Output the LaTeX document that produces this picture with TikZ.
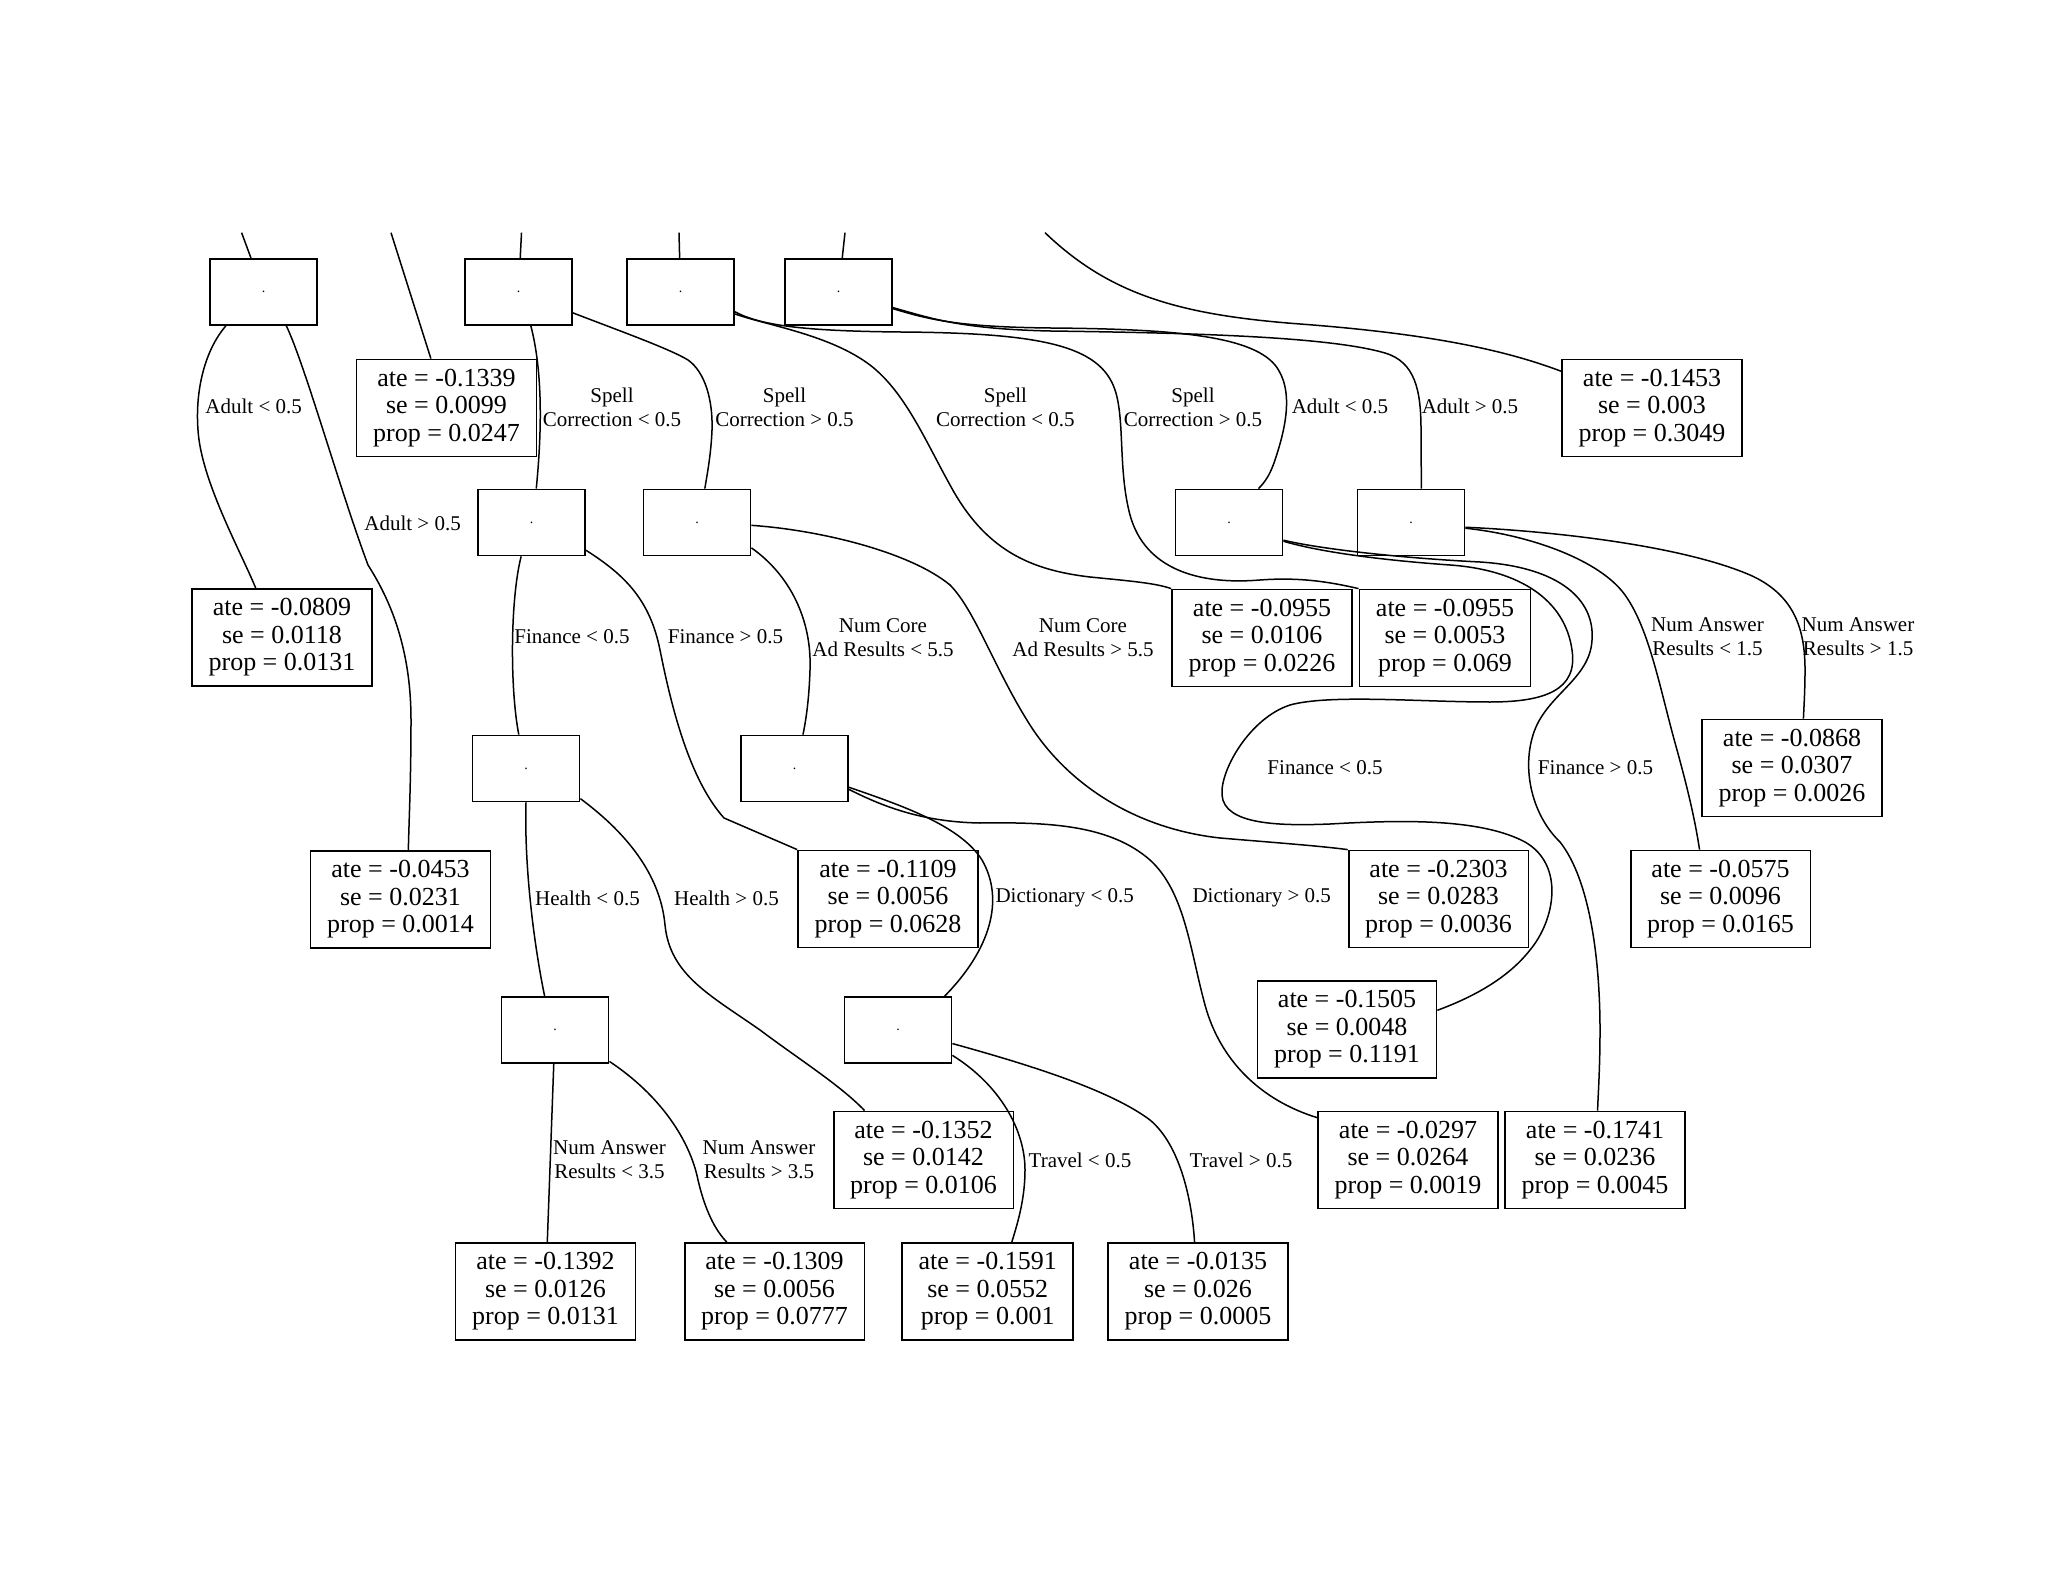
\documentclass[tikz,border=0pt]{standalone}
\usepackage{fontspec}
\setmainfont{Liberation Serif}
\newcommand\leafc[3]{ate = #1\\se = #2\\prop = #3}
\begin{document}
\begin{tikzpicture}[x=0.5pt,y=-0.5pt,
  inner/.style={draw, line width=0.9pt, minimum width=53.5pt, minimum height=33pt, inner sep=0pt, font=\fontsize{7}{7}\selectfont},
  leaf/.style={draw, line width=0.9pt, minimum height=48.5pt, inner xsep=8.25pt, inner ysep=0pt, align=center, font=\fontsize{13}{13.8}\selectfont},
  elab/.style={align=center, inner sep=0pt, font=\fontsize{10.5}{12}\selectfont},
  edge/.style={line width=0.75pt}]
\useasboundingbox (0,0) rectangle (2048,1582);
% internal nodes
\node[inner] (I1) at (263.5,292) {.};
\node[inner] (I2) at (518.5,292) {.};
\node[inner] (I3) at (680.5,292) {.};
\node[inner] (I4) at (838.5,292) {.};
\node[inner] (I5) at (531.5,522.5) {.};
\node[inner] (I6) at (697,522.5) {.};
\node[inner] (I7) at (1229,522.5) {.};
\node[inner] (I8) at (1411,522.5) {.};
\node[inner] (I9) at (526,768.5) {.};
\node[inner] (I10) at (794.5,768.5) {.};
\node[inner] (I11) at (555,1030) {.};
\node[inner] (I12) at (898,1030) {.};
% leaves
\node[leaf] (L1) at (446.5,408) {\leafc{-0.1339}{0.0099}{0.0247}};
\node[leaf] (L2) at (1652,408) {\leafc{-0.1453}{0.003}{0.3049}};
\node[leaf] (L3) at (282,637.5) {\leafc{-0.0809}{0.0118}{0.0131}};
\node[leaf] (L4) at (1262,638) {\leafc{-0.0955}{0.0106}{0.0226}};
\node[leaf] (L5) at (1445,638) {\leafc{-0.0955}{0.0053}{0.069}};
\node[leaf] (L6) at (1792,768) {\leafc{-0.0868}{0.0307}{0.0026}};
\node[leaf] (L7) at (400.5,899.5) {\leafc{-0.0453}{0.0231}{0.0014}};
\node[leaf] (L8) at (888,899) {\leafc{-0.1109}{0.0056}{0.0628}};
\node[leaf] (L9) at (1438.5,899) {\leafc{-0.2303}{0.0283}{0.0036}};
\node[leaf] (L10) at (1720.5,899) {\leafc{-0.0575}{0.0096}{0.0165}};
\node[leaf] (L11) at (1347,1029.5) {\leafc{-0.1505}{0.0048}{0.1191}};
\node[leaf] (L12) at (923.5,1160) {\leafc{-0.1352}{0.0142}{0.0106}};
\node[leaf] (L13) at (1408,1160) {\leafc{-0.0297}{0.0264}{0.0019}};
\node[leaf] (L14) at (1595,1160) {\leafc{-0.1741}{0.0236}{0.0045}};
\node[leaf] (L15) at (545.5,1291.5) {\leafc{-0.1392}{0.0126}{0.0131}};
\node[leaf] (L16) at (774.5,1291.5) {\leafc{-0.1309}{0.0056}{0.0777}};
\node[leaf] (L17) at (987.7,1291.5) {\leafc{-0.1591}{0.0552}{0.001}};
\node[leaf] (L18) at (1198,1291.5) {\leafc{-0.0135}{0.026}{0.0005}};
% edge labels
\node[elab] (a1) at (253.7,406.7) {Adult < 0.5};
\node[elab] (a2) at (412.6,523) {Adult > 0.5};
\node[elab] (a3) at (612,407) {Spell\\Correction < 0.5};
\node[elab] (a4) at (784.5,407) {Spell\\Correction > 0.5};
\node[elab] (a5) at (1005.4,407) {Spell\\Correction < 0.5};
\node[elab] (a6) at (1193,407) {Spell\\Correction > 0.5};
\node[elab] (a7) at (1340,406.7) {Adult < 0.5};
\node[elab] (a8) at (1470,406.7) {Adult > 0.5};
\node[elab] (a9) at (572,636.7) {Finance < 0.5};
\node[elab] (a10) at (725.5,636.7) {Finance > 0.5};
\node[elab] (a11) at (883,637.5) {Num Core\\Ad Results < 5.5};
\node[elab] (a12) at (1083,637.5) {Num Core\\Ad Results > 5.5};
\node[elab] (a13) at (1325,768) {Finance < 0.5};
\node[elab] (a14) at (1595.5,768) {Finance > 0.5};
\node[elab] (a15) at (1707.5,637) {Num Answer\\Results < 1.5};
\node[elab] (a16) at (1858,637) {Num Answer\\Results > 1.5};
\node[elab] (a17) at (587.5,898) {Health < 0.5};
\node[elab] (a18) at (726.5,898) {Health > 0.5};
\node[elab] (a19) at (1064.7,898) {Dictionary < 0.5};
\node[elab] (a20) at (1261.7,898) {Dictionary > 0.5};
\node[elab] (a21) at (609.5,1160) {Num Answer\\Results < 3.5};
\node[elab] (a22) at (759,1160) {Num Answer\\Results > 3.5};
\node[elab] (a23) at (1080,1160) {Travel < 0.5};
\node[elab] (a24) at (1241,1160) {Travel > 0.5};
% incoming edges cut at the top
\coordinate (T1) at (241.6,232.7);
\coordinate (T2) at (391,232.7);
\coordinate (T3) at (521.5,232.7);
\coordinate (T4) at (679,232.7);
\coordinate (T5) at (845,232.7);
\coordinate (T6) at (1045,232.7);
\draw[edge] (T1) -- (I1);
\draw[edge] (T2) -- (L1);
\draw[edge] (T3) -- (I2);
\draw[edge] (T4) -- (I3);
\draw[edge] (T5) -- (I4);
\draw[edge] (T6) .. controls (1110,295) and (1180,315) .. (1300,324) .. controls (1420,333) and (1500,348) .. (L2.158);
% I1
\draw[edge] (I1.-138) .. controls (205,350) and (195,390) .. (198,430) .. controls (201,480) and (240,550) .. (L3.118);
\draw[edge] (I1.-56) .. controls (305,365) and (340,490) .. (368,565) .. controls (385,592) and (411,640) .. (411,720) .. controls (411,780) and (409,820) .. (L7.81);
% I2
\draw[edge] (I2.-70) .. controls (545,380) and (540,450) .. (I5.82);
\draw[edge] (I2.-21) .. controls (620,331) and (670,349) .. (688,360) .. controls (705,372) and (713,400) .. (712,430) .. controls (711,455) and (707,475) .. (I6.77);
% I3
\draw[edge] (I3.-22) .. controls (770,326) and (830,335) .. (870,365) .. controls (905,392) and (925,440) .. (950,485) .. controls (985,550) and (1030,570) .. (1090,577) .. controls (1130,581) and (1155,583) .. (L4.north west);
\draw[edge] (I3.-20) .. controls (760,325) and (800,331) .. (900,332) .. controls (1040,333) and (1100,345) .. (1115,390) .. controls (1125,420) and (1118,470) .. (1130,515) .. controls (1145,570) and (1200,585) .. (1260,580) .. controls (1300,577) and (1330,582) .. (L5.north west);
% I4
\draw[edge] (I4.-17) .. controls (930,320) and (960,327) .. (1050,328) .. controls (1170,329) and (1250,335) .. (1275,365) .. controls (1295,390) and (1285,430) .. (1275,460) .. controls (1270,475) and (1265,482) .. (I7.49);
\draw[edge] (I4.-16) .. controls (930,318) and (960,329) .. (1050,331) .. controls (1200,333) and (1330,337) .. (1385,353) .. controls (1415,362) and (1421,390) .. (1421,430) -- (I8.73);
% I5
\draw[edge] (I5.-107) .. controls (510,600) and (510,690) .. (I9.102);
\draw[edge] (I5.-27) .. controls (625,575) and (650,600) .. (660,650) .. controls (672,710) and (690,780) .. (724,818) -- (L8.north west);
% I6
\draw[edge] (I6.-25) .. controls (790,575) and (812,620) .. (810,670) .. controls (809,700) and (806,720) .. (I10.76);
\draw[edge] (I6.-3) .. controls (820,530) and (910,552) .. (950,585) .. controls (975,610) and (995,670) .. (1030,725) .. controls (1065,780) and (1130,828) .. (1220,838) .. controls (1280,843) and (1320,846) .. (L9.north west);
% I7
\draw[edge] (I7.-19) .. controls (1320,552) and (1380,560) .. (1450,565) .. controls (1520,570) and (1565,600) .. (1572,650) .. controls (1578,690) and (1545,702) .. (1490,702) .. controls (1420,702) and (1330,694) .. (1290,705) .. controls (1250,718) and (1220,770) .. (1222,795) .. controls (1224,825) and (1280,826) .. (1330,824) .. controls (1400,820) and (1480,818) .. (1525,842) .. controls (1565,865) and (1555,920) .. (1530,950) .. controls (1505,982) and (1465,1000) .. (L11.12);
\draw[edge] (I7.-18) .. controls (1320,549) and (1400,558) .. (1480,562) .. controls (1560,567) and (1595,600) .. (1592,640) .. controls (1590,680) and (1545,695) .. (1533,735) .. controls (1522,770) and (1532,815) .. (1560,842) .. controls (1590,880) and (1600,960) .. (1600,1030) .. controls (1600,1070) and (1598,1095) .. (L14.87);
% I8
\draw[edge] (I8.-5) .. controls (1550,531) and (1680,545) .. (1750,575) .. controls (1795,595) and (1805,630) .. (1805,670) .. controls (1805,690) and (1804,705) .. (L6.77);
\draw[edge] (I8.-6) .. controls (1530,535) and (1600,560) .. (1625,595) .. controls (1650,630) and (1660,690) .. (1677,750) .. controls (1688,790) and (1695,820) .. (L10.113);
% I9
\draw[edge] (I9.south) .. controls (524,870) and (535,950) .. (I11.107);
\draw[edge] (I9.-29) .. controls (620,828) and (660,870) .. (665,925) .. controls (670,975) and (710,995) .. (760,1030) .. controls (800,1060) and (840,1085) .. (L12.140);
% I10
\draw[edge] (I10.-19) .. controls (900,805) and (960,825) .. (982,860) .. controls (1005,900) and (990,950) .. (I12.36);
\draw[edge] (I10.-21) .. controls (880,805) and (920,822) .. (980,823) .. controls (1050,822) and (1110,825) .. (1150,860) .. controls (1185,892) and (1190,950) .. (1205,1005) .. controls (1220,1060) and (1260,1100) .. (L13.155);
% I11
\draw[edge] (I11) -- (L15);
\draw[edge] (I11.-30) .. controls (660,1095) and (690,1140) .. (698,1180) .. controls (705,1210) and (715,1230) .. (L16.134);
% I12
\draw[edge] (I12.-25) .. controls (1000,1085) and (1025,1130) .. (1025,1170) .. controls (1025,1200) and (1017,1225) .. (L17.64);
\draw[edge] (I12.-14) .. controls (1030,1065) and (1110,1090) .. (1150,1120) .. controls (1180,1145) and (1192,1200) .. (L18.94);
\end{tikzpicture}
\end{document}
